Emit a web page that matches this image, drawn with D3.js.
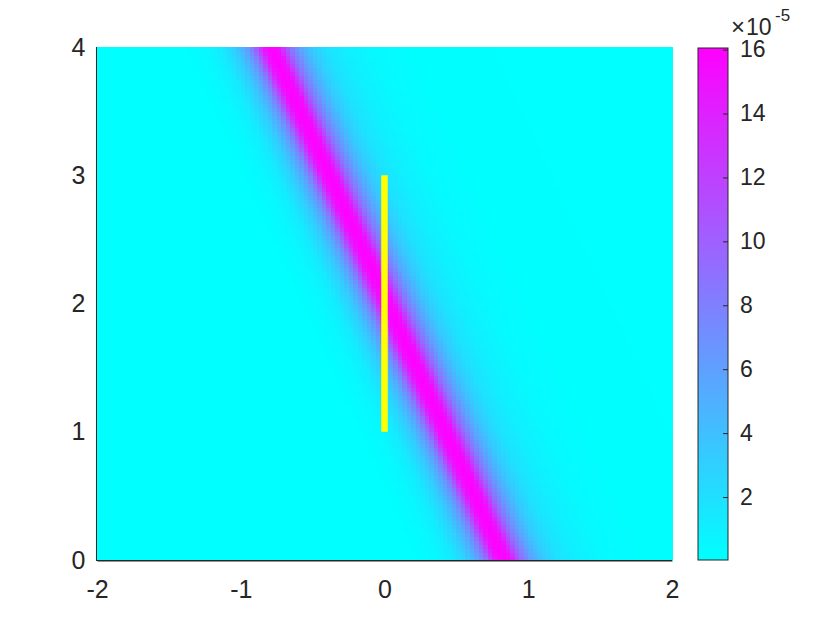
<!DOCTYPE html>
<html><head><meta charset="utf-8">
<script src="https://cdn.jsdelivr.net/npm/d3@7"></script>
<style>body{margin:0;background:#fff;} svg{display:block;} text{font-family:"Liberation Sans",Arial,sans-serif;fill:#262626;}</style>
</head><body>
<svg id="chart" width="840" height="630"></svg>
<script>
// ---- data ----
const xTicks = [-2, -1, 0, 1, 2];
const yTicks = [0, 1, 2, 3, 4];
const cbTicks = [2, 4, 6, 8, 10, 12, 14, 16];
const cbMultiplier = ["×", "10", "-5"];
const colorRange = [0.03, 16.05];           // ×1e-5
// band centre line (x at y = 0 and y = 4)
const bandY = [0, 4];
const bandCenterX = [0.83, -0.79];
// cross-section profile of the band: horizontal offset from the centre, value ×1e-5
const profileOffset = [-1.0, -0.6, -0.45, -0.35, -0.25, -0.18, -0.13, -0.08, -0.05, 0, 0.05, 0.08, 0.13, 0.2, 0.28, 0.38, 0.5, 0.7, 1.0, 2.0];
const profileValue  = [0.03, 0.05, 0.5, 1.3, 3.2, 5.6, 8.2, 12.5, 15.0, 16.05, 15.2, 12.8, 9.0, 5.8, 3.4, 1.9, 1.1, 0.4, 0.1, 0.03];
// yellow segment
const segX = [0, 0];
const segY = [1, 3];
const gridN = 128;

// ---- layout ----
const svg = d3.select("#chart");
const x = d3.scaleLinear().domain([-2, 2]).range([97, 672]);
const y = d3.scaleLinear().domain([0, 4]).range([560, 47]);
const color = d3.scaleLinear().domain(colorRange).range(["#00ffff", "#ff00ff"]);
const centerAt = d3.scaleLinear().domain(bandY).range(bandCenterX);
const prof = d3.scaleLinear().domain(profileOffset).range(profileValue).clamp(true);
const fmt = d => String(d);
const FONT = "'Liberation Sans', Arial, sans-serif";

// axes (drawn under the image, MATLAB style inward ticks)
const axCol = "#262626";
const gx = svg.append("g").attr("transform", "translate(0,560.5)")
  .call(d3.axisBottom(x).tickValues(xTicks).tickSize(-6).tickPadding(20).tickFormat(fmt));
const gy = svg.append("g").attr("transform", "translate(96.5,0)")
  .call(d3.axisLeft(y).tickValues(yTicks).tickSize(-6).tickPadding(11).tickFormat(fmt));
[gx, gy].forEach(g => {
  g.attr("font-size", null).attr("font-family", null);
  g.select(".domain").attr("stroke", axCol);
  g.selectAll(".tick line").attr("stroke", axCol);
  g.selectAll("text").style("font-size", "25px").style("fill", axCol).style("font-family", FONT);
});
gx.selectAll("text").attr("dy", "0.71em");

// heatmap cells
const dx = 4 / gridN, dy = 4 / gridN;
const cells = [];
for (let j = 0; j < gridN; j++) {
  for (let i = 0; i < gridN; i++) {
    const cx = -2 + (i + 0.5) * dx, cy = (j + 0.5) * dy;
    cells.push({x0: -2 + i * dx, y0: j * dy, v: prof(cx - centerAt(cy))});
  }
}
svg.append("g").attr("shape-rendering", "crispEdges")
  .selectAll("rect").data(cells).join("rect")
  .attr("x", d => x(d.x0))
  .attr("y", d => y(d.y0 + dy))
  .attr("width", d => x(d.x0 + dx) - x(d.x0) + 0.6)
  .attr("height", d => y(d.y0) - y(d.y0 + dy) + 0.6)
  .attr("fill", d => color(d.v));

// yellow segment
svg.append("line")
  .attr("x1", x(segX[0])).attr("x2", x(segX[1]))
  .attr("y1", y(segY[0])).attr("y2", y(segY[1]))
  .attr("stroke", "#ffff00").attr("stroke-width", 6.5);

// axis lines on top of the image (left and bottom)
svg.append("line").attr("x1", 96.5).attr("x2", 96.5).attr("y1", 47).attr("y2", 561)
  .attr("stroke", axCol);
svg.append("line").attr("x1", 96).attr("x2", 672).attr("y1", 560.5).attr("y2", 560.5)
  .attr("stroke", axCol);

// colorbar
const cb = d3.scaleLinear().domain(colorRange).range([560, 48]);
const defs = svg.append("defs");
const grad = defs.append("linearGradient").attr("id", "cbg").attr("x1", 0).attr("x2", 0).attr("y1", 1).attr("y2", 0);
grad.append("stop").attr("offset", "0%").attr("stop-color", color(colorRange[0]));
grad.append("stop").attr("offset", "100%").attr("stop-color", color(colorRange[1]));
svg.append("rect").attr("x", 698).attr("y", cb(colorRange[1])).attr("width", 30)
  .attr("height", cb(colorRange[0]) - cb(colorRange[1]))
  .attr("fill", "url(#cbg)").attr("stroke", axCol).attr("stroke-width", 1);
const gc = svg.append("g").attr("transform", "translate(728,0)")
  .call(d3.axisRight(cb).tickValues(cbTicks).tickSize(-5).tickPadding(12).tickFormat(fmt));
gc.attr("font-size", null).attr("font-family", null);
gc.select(".domain").remove();
gc.selectAll(".tick line").attr("stroke", axCol);
gc.selectAll("text").style("font-size", "23px").style("fill", axCol).style("font-family", FONT);

// multiplier "×10^-5" as three separate texts
const mult = svg.append("g").style("fill", axCol).style("font-family", FONT);
mult.append("text").attr("x", 731).attr("y", 35).style("font-size", "24px").text(cbMultiplier[0]);
mult.append("text").attr("x", 746).attr("y", 35).style("font-size", "23px").text(cbMultiplier[1]);
mult.append("text").attr("x", 775).attr("y", 21).style("font-size", "17px").text(cbMultiplier[2]);
</script>
</body></html>
